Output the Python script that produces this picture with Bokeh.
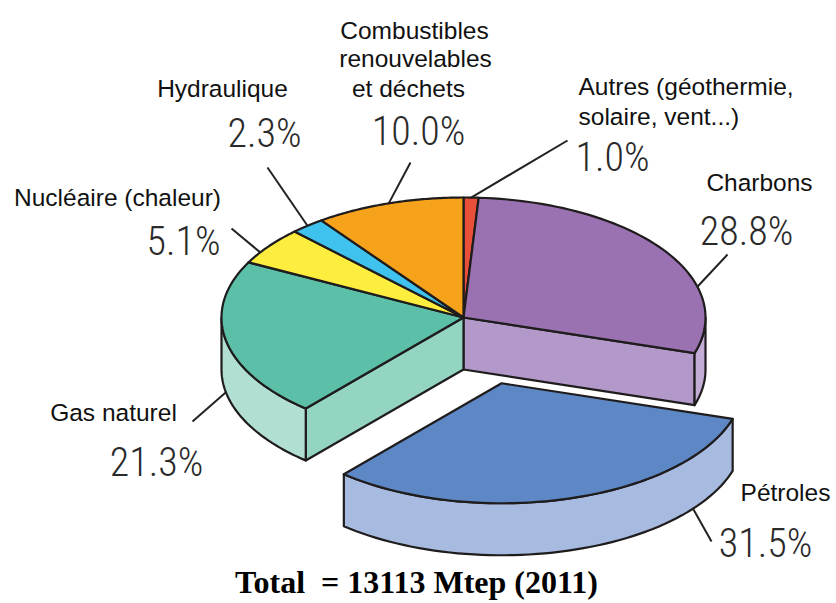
import math
from bokeh.plotting import figure
from bokeh.models import Range1d
from bokeh.embed import file_html
from bokeh.resources import INLINE
from bokeh.core.properties import value

# ---------------- data ----------------
categories = ["Autres", "Charbons", "Pétroles", "Gas naturel",
              "Nucléaire (chaleur)", "Hydraulique", "Combustibles renouvelables et déchets"]
shares = [1.0, 28.8, 31.5, 21.3, 5.1, 2.3, 10.0]
pct_labels = ["1.0%", "28.8%", "31.5%", "21.3%", "5.1%", "2.3%", "10.0%"]
name_lines = [["Autres (géothermie,", "solaire, vent...)"], ["Charbons"], ["Pétroles"],
              ["Gas naturel"], ["Nucléaire (chaleur)"], ["Hydraulique"],
              ["Combustibles", "renouvelables", "et déchets"]]
exploded = [False, False, True, False, False, False, False]
title_text = "Total\u00a0\u00a0= 13113 Mtep (2011)"

# ---------------- style / layout ----------------
top_colors = ["#e9503a", "#9a72b1", "#5e88c5", "#5cc0a8", "#fced3f", "#3fc2ee", "#f7a21b"]
face_colors = ["#f08a78", "#b399c9", "#a7bae0", "#93d4c2", "#fdf59a", "#9ee0f6", "#fbd08d"]
rim_colors = ["#f4a597", "#c3acd6", "#a7bae0", "#b2dfd3", "#fdf6a8", "#aee6f8", "#fcd9a0"]
EDGE = "#1f1c1d"
CX, CY = 463.0, 317.0
RX, RY = 242.0, 120.0
DEPTH = 52.0
EXPLODE_PX = 76.0
PCT_FONT = "Roboto Condensed Light, Roboto Condensed, DejaVu Sans Condensed, Roboto Light, Roboto"

name_pos = [[(578, 86, "left"), (578, 116, "left")], [(759, 182, "center")], [(785, 492, "center")],
            [(113, 412, "center")], [(117, 197, "center")], [(222, 88, "center")],
            [(414, 30, "center"), (415, 58, "center"), (408, 88, "center")]]
pct_pos = [(612, 157), (746, 231), (765, 543), (156, 462), (183, 241), (264, 133), (418, 131)]
leader_anchor = [(0.5, 0), (0.69, 0), (0.18, 1), (0.5, 1), (0.3, 0), (0.5, 0), (0.5, 0)]
leader_end = [(567, 140), (727, 254), (711, 541), (192, 421), (231, 228), (267, 167), (410, 162)]

# ---------------- geometry ----------------
def pt(theta_deg, off, dy=0.0):
    t = math.radians(theta_deg)
    return CX + off[0] + RX * math.cos(t), CY + off[1] - RY * math.sin(t) + dy

def arc(a0, a1, off, dy=0.0, n=60):
    xs, ys = [], []
    for k in range(n + 1):
        a = a0 + (a1 - a0) * k / n
        x, y = pt(a, off, dy)
        xs.append(x); ys.append(y)
    return xs, ys

total = sum(shares)
starts, ends, offs = [], [], []
cum = 0.0
for i, s in enumerate(shares):
    a0 = 90.0 - 360.0 * cum / total
    cum += s
    a1 = 90.0 - 360.0 * cum / total
    starts.append(a0); ends.append(a1)
    if exploded[i]:
        mid = (a0 + a1) / 2
        mx, my = RX * math.cos(math.radians(mid)), -RY * math.sin(math.radians(mid))
        L = math.hypot(mx, my)
        offs.append((EXPLODE_PX * mx / L, EXPLODE_PX * my / L))
    else:
        offs.append((0.0, 0.0))

def front_parts(a0, a1):
    lo, hi = a1, a0
    parts = []
    for k in (-2, -1, 0, 1):
        flo, fhi = -180 + 360 * k, 0 + 360 * k
        l, h = max(lo, flo), min(hi, fhi)
        if h > l:
            parts.append((h, l))
    return parts

side_xs, side_ys, side_c = [], [], []
top_xs, top_ys, top_c = [], [], []
ex_side_xs, ex_side_ys, ex_side_c = [], [], []
ex_top_xs, ex_top_ys, ex_top_c = [], [], []

for i in range(len(shares)):
    a0, a1, off = starts[i], ends[i], offs[i]
    sx, sy, sc = (ex_side_xs, ex_side_ys, ex_side_c) if exploded[i] else (side_xs, side_ys, side_c)
    if not exploded[i]:
        nxt = (i + 1) % len(shares)
        prv = (i - 1) % len(shares)
        for flag, ang in ((exploded[nxt], a1), (exploded[prv], a0)):
            if flag:
                x1, y1 = pt(ang, off); x2, y2 = pt(ang, off, DEPTH)
                sx.append([CX + off[0], x1, x2, CX + off[0]])
                sy.append([CY + off[1], y1, y2, CY + off[1] + DEPTH])
                sc.append(face_colors[i])
    for (h, l) in front_parts(a0, a1):
        tx, ty = arc(h, l, off)
        bx, by = arc(l, h, off, DEPTH)
        sx.append(tx + bx); sy.append(ty + by); sc.append(rim_colors[i])
    ax, ay = arc(a0, a1, off)
    tx = [CX + off[0]] + ax
    ty = [CY + off[1]] + ay
    if exploded[i]:
        ex_top_xs.append(tx); ex_top_ys.append(ty); ex_top_c.append(top_colors[i])
    else:
        top_xs.append(tx); top_ys.append(ty); top_c.append(top_colors[i])

# ---------------- figure ----------------
W, H = 836, 603
p = figure(width=W, height=H, output_backend="svg", toolbar_location=None,
           x_range=Range1d(0, W), y_range=Range1d(H, 0), min_border=0)
p.axis.visible = False
p.grid.visible = False
p.outline_line_color = None
p.background_fill_color = "white"

lw = 2.2
p.patches(side_xs, side_ys, fill_color=side_c, line_color=EDGE, line_width=lw, line_join="round")
p.patches(top_xs, top_ys, fill_color=top_c, line_color=EDGE, line_width=lw, line_join="round")
p.patches(ex_side_xs, ex_side_ys, fill_color=ex_side_c, line_color=EDGE, line_width=lw, line_join="round")
p.patches(ex_top_xs, ex_top_ys, fill_color=ex_top_c, line_color=EDGE, line_width=lw, line_join="round")

lx, ly = [], []
for i in range(len(shares)):
    frac, lvl = leader_anchor[i]
    a = starts[i] + (ends[i] - starts[i]) * frac
    x0, y0 = pt(a, offs[i], DEPTH * lvl)
    lx.append([x0, leader_end[i][0]]); ly.append([y0, leader_end[i][1]])
p.multi_line(lx, ly, line_color="#222222", line_width=2)

for i in range(len(shares)):
    for line, (x, y, al) in zip(name_lines[i], name_pos[i]):
        p.text(x=[x], y=[y], text=[line], text_font=value("Liberation Sans"), text_font_size="24.5px",
               text_align=al, text_baseline="middle", text_color="#111111")
p.text(x=[q[0] for q in pct_pos], y=[q[1] for q in pct_pos], text=pct_labels,
       text_font=value(PCT_FONT), text_font_size="40px",
       text_align="center", text_baseline="middle", text_color="#2a2a2a")
p.text(x=[416], y=[581], text=[title_text], text_font=value("Liberation Serif"),
       text_font_style="bold", text_font_size="32px", text_align="center",
       text_baseline="middle", text_color="#000000")

open("out.html", "w").write(file_html(p, INLINE))
